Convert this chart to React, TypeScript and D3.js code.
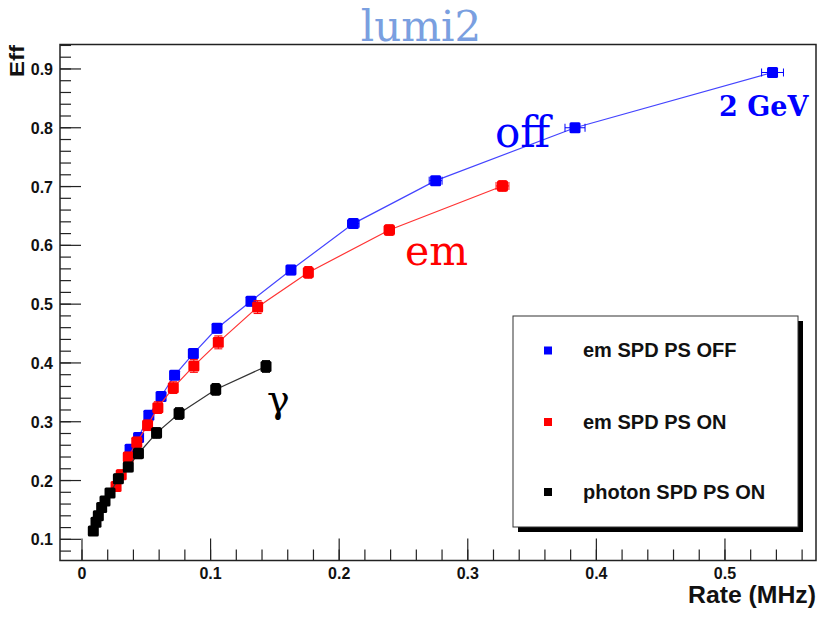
import React from "react";
import * as d3 from "d3";

// ---- Data ----
const offRate = [0.0374, 0.044, 0.052, 0.0615, 0.072, 0.0866, 0.105, 0.1314, 0.1625, 0.211, 0.275, 0.3834, 0.537];
const offEff = [0.253, 0.273, 0.311, 0.343, 0.379, 0.416, 0.459, 0.505, 0.558, 0.637, 0.710, 0.800, 0.894];
const offRateErr = [0.001, 0.001, 0.0012, 0.0014, 0.0016, 0.002, 0.0024, 0.003, 0.0035, 0.0045, 0.005, 0.0078, 0.0085];
const offEffErr = [0.006, 0.006, 0.006, 0.006, 0.007, 0.007, 0.008, 0.008, 0.008, 0.008, 0.007, 0.006, 0.005];

const onRate = [0.0265, 0.0305, 0.036, 0.0426, 0.051, 0.059, 0.071, 0.087, 0.106, 0.1366, 0.176, 0.239, 0.327];
const onEff = [0.190, 0.210, 0.240, 0.265, 0.294, 0.324, 0.358, 0.395, 0.435, 0.495, 0.554, 0.626, 0.701];
const onRateErr = [0.001, 0.001, 0.001, 0.0012, 0.0014, 0.0016, 0.0018, 0.002, 0.0025, 0.003, 0.0035, 0.004, 0.005];
const onEffErr = [0.008, 0.008, 0.008, 0.009, 0.009, 0.010, 0.010, 0.011, 0.011, 0.011, 0.010, 0.009, 0.009];

const phRate = [0.0088, 0.0109, 0.0127, 0.0153, 0.0179, 0.0218, 0.0283, 0.036, 0.0439, 0.058, 0.0755, 0.104, 0.1431];
const phEff = [0.114, 0.129, 0.140, 0.154, 0.165, 0.179, 0.203, 0.223, 0.246, 0.281, 0.314, 0.355, 0.394];
const phRateErr = [0.0005, 0.0005, 0.0005, 0.0006, 0.0006, 0.0007, 0.0008, 0.001, 0.0012, 0.0014, 0.0016, 0.002, 0.0025];
const phEffErr = [0.006, 0.006, 0.006, 0.007, 0.007, 0.007, 0.008, 0.008, 0.009, 0.009, 0.010, 0.010, 0.010];

const xTicks = [0, 0.1, 0.2, 0.3, 0.4, 0.5];
const yTicks = [0.1, 0.2, 0.3, 0.4, 0.5, 0.6, 0.7, 0.8, 0.9];
const legendLabels = ["em SPD PS OFF", "em SPD PS ON", "photon SPD PS ON"];
const seriesColors = ["#0000ff", "#ff0000", "#000000"];
const lineColors = ["#4444ff", "#ff3333", "#333333"];

const W = 819, H = 620;
const L = 60, T = 44.5, R = 816, B = 560.5;

export default function App() {
  const x = d3.scaleLinear().domain([-0.0171, 0.5708]).range([L, R]);
  const y = d3.scaleLinear().domain([0.064, 0.9416]).range([B, T]);
  const sans = "'Liberation Sans', Arial, sans-serif";
  const serif = "'DejaVu Serif', serif";

  const series = [
    { xs: offRate, ys: offEff, ex: offRateErr, ey: offEffErr },
    { xs: onRate, ys: onEff, ex: onRateErr, ey: onEffErr },
    { xs: phRate, ys: phEff, ex: phRateErr, ey: phEffErr },
  ];
  const line = d3.line<number>();

  const xMinor = d3.range(0, 0.5708, 0.02).map((v) => +v.toFixed(3));
  const yMinor = d3.range(0.08, 0.9416, 0.02).map((v) => +v.toFixed(3));

  const ms = 11;
  return (
    <svg width={W} height={H} style={{ position: "absolute", left: 0, top: 0, background: "#fff" }}>
      <rect x={0} y={0} width={W} height={H} fill="#fff" />
      {/* title */}
      <text x={421} y={41} textAnchor="middle" fontFamily={serif} fontSize={42} fill="#7a9fe0">lumi2</text>

      {/* series lines, error bars, markers */}
      {series.map((s, si) => {
        const pts = s.xs.map((v, i) => [x(v), y(s.ys[i])] as [number, number]);
        return (
          <g key={si}>
            <path d={line(pts) || ""} fill="none" stroke={lineColors[si]} strokeWidth={1.2} />
            {s.xs.map((v, i) => {
              const cx = x(v), cy = y(s.ys[i]);
              const x0 = x(v - s.ex[i]), x1 = x(v + s.ex[i]);
              const y0 = y(s.ys[i] - s.ey[i]), y1 = y(s.ys[i] + s.ey[i]);
              return (
                <g key={i} stroke={seriesColors[si]} strokeWidth={1}>
                  <line x1={x0} x2={x1} y1={cy} y2={cy} />
                  <line x1={x0} x2={x0} y1={cy - 4} y2={cy + 4} />
                  <line x1={x1} x2={x1} y1={cy - 4} y2={cy + 4} />
                  <line x1={cx} x2={cx} y1={y0} y2={y1} />
                  <line x1={cx - 4} x2={cx + 4} y1={y0} y2={y0} />
                  <line x1={cx - 4} x2={cx + 4} y1={y1} y2={y1} />
                  <rect x={cx - ms / 2} y={cy - ms / 2} width={ms} height={ms} rx={1.5} fill={seriesColors[si]} stroke="none" />
                </g>
              );
            })}
          </g>
        );
      })}

      {/* frame */}
      <rect x={L} y={T} width={R - L} height={B - T} fill="none" stroke="#222" strokeWidth={1.5} />

      {/* x ticks */}
      {xMinor.map((v, i) => (
        <line key={"xm" + i} x1={x(v)} x2={x(v)} y1={B} y2={B - 11} stroke="#222" strokeWidth={1.2} />
      ))}
      {xTicks.map((v) => (
        <g key={"xt" + v}>
          <line x1={x(v)} x2={x(v)} y1={B} y2={B - 22} stroke="#222" strokeWidth={1.2} />
          <text x={x(v)} y={579} textAnchor="middle" fontFamily={sans} fontWeight="bold" fontSize={16} fill="#111">{v === 0 ? "0" : d3.format(".1f")(v)}</text>
        </g>
      ))}
      {/* y ticks */}
      {yMinor.map((v, i) => (
        <line key={"ym" + i} x1={L} x2={L + 11} y1={y(v)} y2={y(v)} stroke="#222" strokeWidth={1.2} />
      ))}
      {yTicks.map((v) => (
        <g key={"yt" + v}>
          <line x1={L} x2={L + 21} y1={y(v)} y2={y(v)} stroke="#222" strokeWidth={1.2} />
          <text x={53} y={y(v) + 6} textAnchor="end" fontFamily={sans} fontWeight="bold" fontSize={16} fill="#111">{d3.format(".1f")(v)}</text>
        </g>
      ))}

      {/* axis titles */}
      <text x={816} y={603} textAnchor="end" fontFamily={sans} fontWeight="bold" fontSize={23} textLength={128} lengthAdjust="spacingAndGlyphs" fill="#111">Rate (MHz)</text>
      <text transform="translate(24,45) rotate(-90)" textAnchor="end" fontFamily={sans} fontWeight="bold" fontSize={20} textLength={32} lengthAdjust="spacingAndGlyphs" fill="#111">Eff</text>

      {/* annotations */}
      <text x={495} y={147} fontFamily={serif} fontSize={42} fill="#0000ff">off</text>
      <text x={719} y={116} fontFamily={serif} fontWeight="bold" fontSize={27} fill="#0000ff">2 GeV</text>
      <text x={405} y={265} fontFamily={serif} fontSize={41} fill="#ff0000">em</text>
      <text x={267} y={412} fontFamily={serif} fontSize={38} fill="#000">γ</text>

      {/* legend */}
      <rect x={518} y={321} width={285} height={211} fill="#000" />
      <rect x={513} y={316} width={285} height={211} fill="#fff" stroke="#333" strokeWidth={1} />
      {legendLabels.map((lab, i) => {
        const cy = [350, 421.5, 491.5][i];
        return (
          <g key={lab}>
            <rect x={544} y={cy - 3.5} width={8} height={8} fill={seriesColors[i]} />
            <text x={583} y={cy + 7} fontFamily={sans} fontWeight="bold" fontSize={20} fill="#111">{lab}</text>
          </g>
        );
      })}
    </svg>
  );
}
